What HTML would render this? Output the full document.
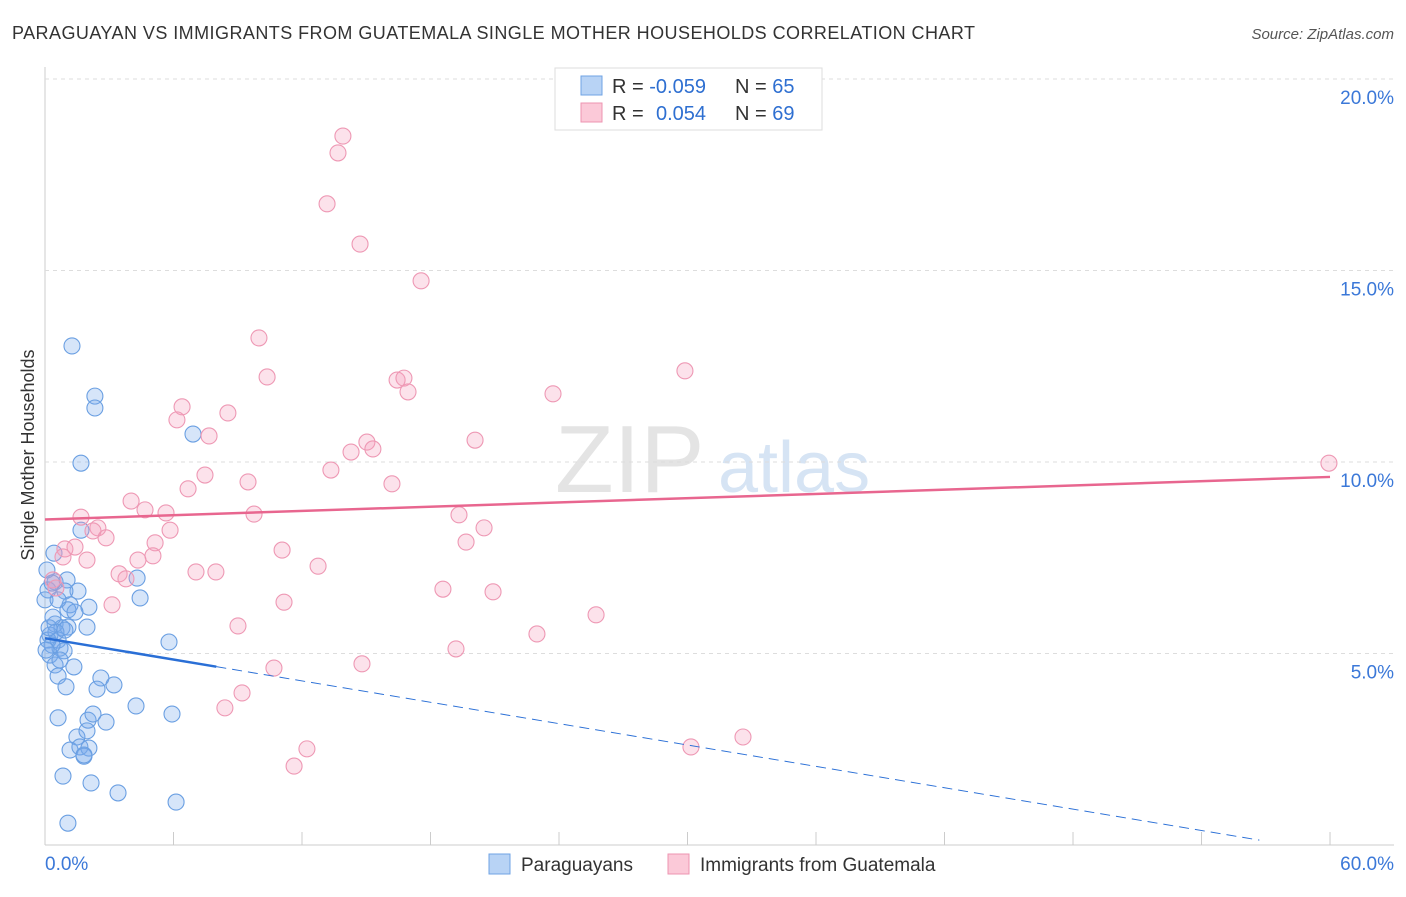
<!DOCTYPE html>
<html><head><meta charset="utf-8"><style>
body{margin:0;background:#fff;font-family:"Liberation Sans",sans-serif}
svg text{font-family:"Liberation Sans",sans-serif}
</style></head><body>
<svg id="c" width="1406" height="892">
<text x="12" y="39" font-size="18" fill="#333" textLength="963">PARAGUAYAN VS IMMIGRANTS FROM GUATEMALA SINGLE MOTHER HOUSEHOLDS CORRELATION CHART</text>
<text x="1394" y="39" font-size="15" fill="#555" text-anchor="end" font-style="italic">Source: ZipAtlas.com</text>
<text x="0" y="0" transform="translate(34,455) rotate(-90)" text-anchor="middle" font-size="18" fill="#333">Single Mother Households</text>
<text x="555" y="492" font-size="96" fill="#e4e4e4" font-family="Liberation Serif">ZIP</text>
<text x="718" y="492" font-size="72" fill="#d6e4f4">atlas</text>
<g id="grid"></g><g id="pts"></g><g id="lines"></g>
<g>
<rect x="555" y="68" width="267" height="62" fill="#fff" stroke="#ddd"/>
<rect x="581" y="76" width="21" height="19" fill="#b8d3f5" stroke="#6fa3e4"/>
<rect x="581" y="103" width="21" height="19" fill="#fbc9d8" stroke="#ee94b1"/>
<text x="612" y="93" font-size="20" fill="#333">R = <tspan fill="#2e6fd1">-0.059</tspan><tspan x="735">N = </tspan><tspan fill="#2e6fd1">65</tspan></text>
<text x="612" y="120" font-size="20" fill="#333">R = <tspan x="656" fill="#2e6fd1">0.054</tspan><tspan x="735">N = </tspan><tspan fill="#2e6fd1">69</tspan></text>
</g>
<g>
<rect x="489" y="854" width="21" height="20" fill="#b8d3f5" stroke="#6fa3e4"/>
<text x="521" y="871" font-size="19" fill="#333">Paraguayans</text>
<rect x="668" y="854" width="21" height="20" fill="#fbc9d8" stroke="#ee94b1"/>
<text x="700" y="871" font-size="19" fill="#333">Immigrants from Guatemala</text>
</g>
<text x="45" y="870" font-size="19" fill="#3b78d8">0.0%</text>
<text x="1394" y="870" font-size="19" fill="#3b78d8" text-anchor="end">60.0%</text>
</svg>
<script>
const yTicks=[5,10,15,20];
const bluePx=[[72,346],[95,396],[95,408],[81,463],[193,434],[81,530],[54,553],[55,582],[67,580],[137,578],[78,591],[65,591],[140,598],[70,605],[89,607],[68,610],[55,624],[62,628],[68,627],[87,627],[50,635],[58,640],[169,642],[60,648],[64,651],[50,655],[55,665],[74,667],[58,676],[101,678],[114,685],[66,687],[97,689],[136,706],[172,714],[58,718],[88,720],[93,714],[106,722],[77,737],[87,731],[70,750],[80,747],[89,748],[84,756],[63,776],[91,783],[118,793],[176,802],[68,823],[48,590],[52,583],[48,640],[52,645],[45,600],[58,600],[47,570],[56,632],[60,660],[46,650],[49,628],[53,617],[75,612],[84,755],[65,630]];
const pinkPx=[[343,136],[338,153],[327,204],[360,244],[421,281],[259,338],[685,371],[267,377],[397,380],[404,378],[408,392],[553,394],[182,407],[228,413],[177,420],[209,436],[367,442],[475,440],[351,452],[373,449],[331,470],[205,475],[248,482],[188,489],[392,484],[1329,463],[131,501],[145,510],[254,514],[166,513],[459,515],[81,517],[484,528],[98,528],[170,530],[93,531],[106,538],[155,543],[65,549],[75,547],[466,542],[282,550],[153,556],[87,560],[63,557],[318,566],[138,560],[196,572],[216,572],[119,574],[126,579],[443,589],[493,592],[53,580],[56,588],[284,602],[112,605],[596,615],[238,626],[537,634],[456,649],[362,664],[274,668],[242,693],[225,708],[307,749],[294,766],[691,747],[743,737]];
const blueX=bluePx.map(p=>+((p[0]-45)/21.417).toFixed(2)), blueY=bluePx.map(p=>+((845-p[1])/38.3).toFixed(2));
const pinkX=pinkPx.map(p=>+((p[0]-45)/21.417).toFixed(2)), pinkY=pinkPx.map(p=>+((845-p[1])/38.3).toFixed(2));
const blueTrend=[5.4,-0.093];
const pinkTrend=[8.5,0.0185];
const X=v=>45+v*21.417, Y=v=>845-v*38.3;
const ns="http://www.w3.org/2000/svg";
function mk(t,a,parent){const e=document.createElementNS(ns,t);for(const k in a)e.setAttribute(k,a[k]);document.getElementById(parent).appendChild(e);return e;}
let ax=mk('line',{x1:45,y1:67,x2:45,y2:845,stroke:'#ccc'},'grid');


let bx=mk('line',{x1:45,y1:845,x2:1394,y2:845,stroke:'#ccc'},'grid');


for(let i=0;i<=10;i++){let t=mk('line',{x1:X(i*6),y1:845,x2:X(i*6),y2:832,stroke:'#ccc'},'grid');

}
yTicks.forEach(v=>{let g=mk('line',{x1:45,y1:Y(v),x2:1394,y2:Y(v),stroke:'#ddd','stroke-dasharray':'4,4'},'grid');


let t=mk('text',{x:1394,y:Y(v)+25,'font-size':19,fill:'#3b78d8','text-anchor':'end'},'grid');t.textContent=v.toFixed(1)+'%';

});
blueX.forEach((x,i)=>{let c=mk('circle',{cx:X(x),cy:Y(blueY[i]),r:8,fill:'rgba(120,170,235,0.3)',stroke:'#6a9fe2','stroke-width':1.1},'pts');

});
pinkX.forEach((x,i)=>{let c=mk('circle',{cx:X(x),cy:Y(pinkY[i]),r:8,fill:'rgba(245,160,190,0.3)',stroke:'#ee98b4','stroke-width':1.1},'pts');

});
const bt=x=>blueTrend[0]+blueTrend[1]*x, pt=x=>pinkTrend[0]+pinkTrend[1]*x;
let l1=mk('line',{x1:X(0),y1:Y(pt(0)),x2:X(60),y2:Y(pt(60)),stroke:'#e8668f','stroke-width':2.5},'lines');


let l2=mk('line',{x1:X(0),y1:Y(bt(0)),x2:X(8),y2:Y(bt(8)),stroke:'#2a6fd6','stroke-width':2.5},'lines');


let l3=mk('line',{x1:X(8),y1:Y(bt(8)),x2:X(56.7),y2:Y(bt(56.7)),stroke:'#2a6fd6','stroke-width':1,'stroke-dasharray':'10,6'},'lines');


</script>
</body></html>
